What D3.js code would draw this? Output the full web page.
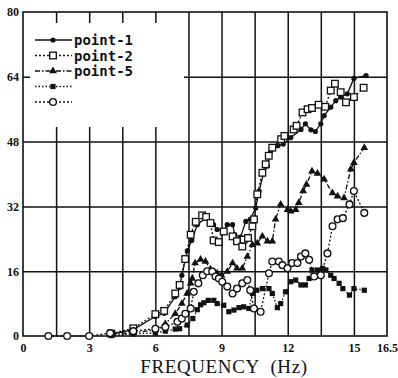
<!DOCTYPE html>
<html>
<head>
<meta charset="utf-8">
<script src="https://cdn.jsdelivr.net/npm/d3@7"></script>
<style>
  body { margin: 0; background: #fff; }
  svg { display: block; }
</style>
</head>
<body>
<div id="chart"></div>
<script>
// tick labels and grid positions
const xTicks = [0, 3, 6, 9, 12, 15, 16.5];
const yTicks = [0, 16, 32, 48, 64, 80];
const xGridVals = [1.5, 3, 4.5, 6, 7.5, 9, 10.5, 12, 13.5, 15];
const yGridVals = [16, 32, 48, 64];

const legendNames = ["point-1", "point-2", "point-5", "", ""];

// [frequency (Hz), value]
const point1 = [[4.0,0.4],[5.0,1.6],[6.0,4.8],[6.4,5.6],[6.9,9.7],[7.1,12],[7.2,15],[7.45,21],[7.65,23.6],[7.9,27.5],[8.27,29.1],[8.64,27.5],[8.8,26.3],[9.1,25.8],[9.26,27.5],[9.5,27.5],[9.6,25],[9.86,24.4],[10.1,28.3],[10.3,28.8],[10.55,31.6],[10.7,35.8],[10.9,40],[11.08,42],[11.23,45.7],[11.56,47],[11.8,47.4],[12.14,49],[12.6,51],[12.8,52.4],[13.05,50.9],[13.25,50.5],[13.5,52.4],[13.65,54.4],[13.95,56.5],[14.18,58.1],[14.4,59],[14.7,59.8],[15.0,63.6],[15.55,64.3]];
const point2 = [[4.0,0.6],[5.0,1.9],[6.0,5.4],[6.4,6.2],[6.9,10.5],[7.1,12.6],[7.35,19],[7.6,25],[7.83,28.2],[8.12,29.8],[8.3,29.4],[8.5,27.9],[8.64,23.6],[8.87,23.2],[9.1,25.8],[9.5,24.6],[9.7,23.4],[9.94,22.1],[10.0,23.8],[10.2,24.2],[10.4,27.1],[10.47,28.8],[10.62,35],[10.85,40.3],[11.0,42.4],[11.14,44.5],[11.3,46.5],[11.7,48.6],[11.85,49.4],[12.27,51],[12.4,51.9],[12.67,55.2],[12.9,56],[13.1,56.3],[13.4,57.1],[13.7,56.6],[13.95,60.6],[14.14,62.3],[14.4,60.2],[14.64,57.7],[15.0,59],[15.44,61.3]];
const point5 = [[4.0,0.3],[5.0,0.8],[6.0,1.5],[6.45,3],[6.9,5.5],[7.2,8],[7.44,10.5],[7.6,13],[7.67,14.2],[7.8,18],[8.05,18.9],[8.27,18.4],[8.5,16.5],[8.8,15.5],[9.0,15],[9.26,15.9],[9.5,18],[9.7,16.7],[9.94,16.7],[10.17,19.6],[10.4,22.5],[10.62,22.9],[10.85,24.6],[11.08,23.4],[11.3,23.4],[11.45,28.8],[11.68,32.5],[11.99,31.2],[12.14,30.8],[12.36,31.2],[12.5,32.9],[12.7,35.8],[12.85,37.4],[13.1,40.7],[13.35,40.1],[13.65,38.7],[14.03,35.3],[14.26,34.5],[14.55,34.1],[14.86,41.2],[15.0,42.8],[15.47,46.5]];
const point4 = [[4.0,0.1],[5.0,0.5],[6.0,0.8],[6.45,1.2],[6.9,1.7],[7.1,1.8],[7.44,2.7],[7.7,4.3],[7.9,6.5],[8.05,7.7],[8.2,8.2],[8.4,8.8],[8.65,8.8],[8.8,8],[9.1,7.6],[9.33,6],[9.56,6.4],[9.79,7],[10.0,7.2],[10.24,6.8],[10.4,10.5],[10.6,11.3],[10.85,11.7],[11.15,11.7],[11.3,10.5],[11.53,7],[11.68,8],[11.9,10.9],[12.14,13.4],[12.36,13.8],[12.6,12.6],[12.8,12.6],[12.97,14.2],[13.1,16.3],[13.35,16.3],[13.58,16.7],[13.73,16.3],[13.95,15],[14.1,14.2],[14.33,13],[14.5,11.7],[14.8,10.1],[15.0,11.7],[15.47,11.3]];
const point6 = [[1.15,0],[2.0,0],[3.0,0],[3.95,0.7],[5.0,1.2],[6.0,1.8],[6.45,2.2],[7.0,3.5],[7.2,4.3],[7.36,5.5],[7.6,6.8],[7.74,10.9],[7.95,13],[8.15,15],[8.35,16],[8.58,15.9],[8.73,14.7],[8.88,14.2],[9.03,13.4],[9.26,12.2],[9.5,10.5],[9.7,11.7],[9.94,13],[10.17,13.8],[10.3,11.3],[10.47,6.8],[10.77,6],[11.15,15.5],[11.3,18.4],[11.6,18.4],[11.76,17.5],[11.99,16.7],[12.2,18],[12.44,18],[12.6,19.6],[12.8,20.4],[12.97,18.8],[13.2,14.7],[13.5,15],[13.8,20.4],[14.03,27.1],[14.26,28.8],[14.5,29.1],[14.8,32.5],[15.0,35.8],[15.47,30.4]];

const width = 398, height = 378;
const plot = { left: 23, right: 387, top: 12, bottom: 336 };

const svg = d3.select("#chart").append("svg")
  .attr("width", width)
  .attr("height", height);

const x = d3.scaleLinear().domain([0, 16.5]).range([plot.left, plot.right]);
const y = d3.scaleLinear().domain([0, 80]).range([plot.bottom, plot.top]);

// grid
const xGrid = d3.axisBottom(x).tickValues(xGridVals).tickSize(-(plot.bottom - plot.top)).tickFormat("");
svg.append("g").attr("class", "grid")
  .attr("transform", "translate(0," + plot.bottom + ")")
  .call(xGrid);
const yGrid = d3.axisLeft(y).tickValues(yGridVals).tickSize(-(plot.right - plot.left)).tickFormat("");
svg.append("g").attr("class", "grid")
  .attr("transform", "translate(" + plot.left + ",0)")
  .call(yGrid);
svg.selectAll(".grid .domain").remove();
svg.selectAll(".grid line").attr("stroke", "#111").attr("stroke-width", 1.5);

// white legend box covers the grid
svg.append("rect")
  .attr("x", 30).attr("y", 23)
  .attr("width", 154).attr("height", 104)
  .attr("fill", "#fff");

// frame
svg.append("rect")
  .attr("x", plot.left).attr("y", plot.top)
  .attr("width", plot.right - plot.left).attr("height", plot.bottom - plot.top)
  .attr("fill", "none").attr("stroke", "#111").attr("stroke-width", 1.6);

// tick labels
const xAxis = d3.axisBottom(x).tickValues(xTicks).tickSize(0).tickPadding(7).tickFormat(d => d);
svg.append("g").attr("class", "axisx")
  .attr("transform", "translate(0," + plot.bottom + ")")
  .call(xAxis);
const yAxis = d3.axisLeft(y).tickValues(yTicks).tickSize(0).tickPadding(4).tickFormat(d => d);
svg.append("g").attr("class", "axisy")
  .attr("transform", "translate(" + plot.left + ",0)")
  .call(yAxis);
svg.selectAll(".axisx .domain, .axisy .domain").remove();
svg.selectAll(".axisx text, .axisy text")
  .attr("font-family", "'Liberation Serif', serif")
  .attr("font-size", 12)
  .attr("font-weight", "bold")
  .attr("fill", "#111");

svg.append("text")
  .attr("x", 224).attr("y", 373)
  .attr("text-anchor", "middle")
  .attr("font-family", "'Liberation Serif', serif")
  .attr("font-size", 19)
  .attr("letter-spacing", 0.6)
  .attr("fill", "#111")
  .text("FREQUENCY\u00a0\u00a0(Hz)");

// series
const series = [
  { data: point1, dash: null, marker: "dot" },
  { data: point2, dash: "2,2", marker: "osquare" },
  { data: point5, dash: "5,2,1.5,2", marker: "triangle" },
  { data: point4, dash: "1.5,2", marker: "fsquare" },
  { data: point6, dash: "2,2", marker: "ocircle" }
];

const line = d3.line()
  .x(d => x(d[0]))
  .y(d => y(d[1]));

function drawMarker(g, kind) {
  if (kind === "dot") {
    g.append("circle").attr("r", 2.6).attr("fill", "#111");
  } else if (kind === "osquare") {
    g.append("rect").attr("x", -3.3).attr("y", -3.3).attr("width", 6.6).attr("height", 6.6)
      .attr("fill", "#fff").attr("stroke", "#111").attr("stroke-width", 1.3);
  } else if (kind === "triangle") {
    g.append("path").attr("d", d3.symbol(d3.symbolTriangle, 26)()).attr("fill", "#111");
  } else if (kind === "fsquare") {
    g.append("rect").attr("x", -2.6).attr("y", -2.6).attr("width", 5.2).attr("height", 5.2).attr("fill", "#111");
  } else {
    g.append("circle").attr("r", 3.4).attr("fill", "#fff").attr("stroke", "#111").attr("stroke-width", 1.3);
  }
}

series.forEach((s, i) => {
  svg.append("path")
    .attr("d", line(s.data))
    .attr("fill", "none")
    .attr("stroke", "#111")
    .attr("stroke-width", 1.3)
    .attr("stroke-dasharray", s.dash);
});

series.forEach((s, i) => {
  svg.append("g").selectAll("g")
    .data(s.data)
    .enter().append("g")
    .attr("transform", d => "translate(" + x(d[0]) + "," + y(d[1]) + ")")
    .each(function() { drawMarker(d3.select(this), s.marker); });
});

// legend
const legends = svg.selectAll(".legend")
  .data(series)
  .enter().append("g")
  .attr("class", "legend")
  .attr("transform", (d, i) => "translate(0," + (40 + i * 15.5) + ")");

legends.append("line")
  .attr("x1", 35).attr("x2", 72)
  .attr("stroke", "#111").attr("stroke-width", 1.3)
  .attr("stroke-dasharray", d => d.dash);

legends.append("g")
  .attr("transform", "translate(53,0)")
  .each(function(d) { drawMarker(d3.select(this), d.marker); });

legends.append("text")
  .attr("x", 74).attr("y", 5)
  .attr("font-family", "'DejaVu Sans Mono', monospace")
  .attr("font-size", 14)
  .attr("font-weight", "bold")
  .attr("fill", "#111")
  .text((d, i) => legendNames[i]);
</script>
</body>
</html>
